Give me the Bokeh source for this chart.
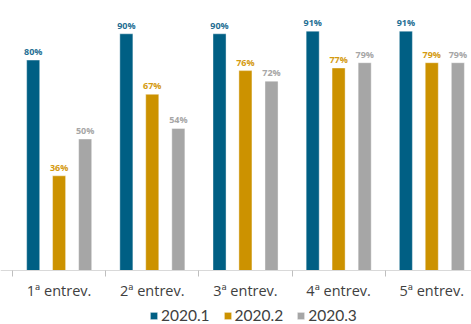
from bokeh.plotting import figure
from bokeh.models import ColumnDataSource, FixedTicker, Legend, Range1d, LinearAxis
from bokeh.core.properties import value
from bokeh.transform import dodge
from bokeh.embed import file_html
from bokeh.resources import INLINE

categories = ["1ª entrev.", "2ª entrev.", "3ª entrev.", "4ª entrev.", "5ª entrev."]
series = ["2020.1", "2020.2", "2020.3"]
s2020_1 = [80, 90, 90, 91, 91]
s2020_2 = [36, 67, 76, 77, 79]
s2020_3 = [50, 54, 72, 79, 79]
colors = ["#005F84", "#CC9200", "#A6A6A6"]
label_colors = ["#1F6F94", "#D49A10", "#A6A6A6"]

xpos = [1, 2, 3, 4, 5]
src = ColumnDataSource(dict(
    x=xpos, cat=categories,
    a=s2020_1, b=s2020_2, c=s2020_3,
    la=[f"{v}%" for v in s2020_1],
    lb=[f"{v}%" for v in s2020_2],
    lc=[f"{v}%" for v in s2020_3],
))

p = figure(width=471, height=324, output_backend="svg", toolbar_location=None,
           x_range=Range1d(0.3712, 5.4265), y_range=Range1d(-20.53, 102.66),
           x_axis_location=None, y_axis_location=None,
           min_border_left=0, min_border_right=0, min_border_top=0, min_border_bottom=0)
p.outline_line_color = None
p.grid.visible = False

offsets = [-0.278, 0.0, 0.28]
cols = ["a", "b", "c"]
lcols = ["la", "lb", "lc"]
renderers = []
for name, col, lcol, off, c, lc in zip(series, cols, lcols, offsets, colors, label_colors):
    r = p.vbar(x=dodge("x", off), top=col, bottom=0, width=0.14, source=src,
               fill_color=c, line_color="#FFFFFF", line_alpha=0.5, line_width=0.8)
    renderers.append((name, [r]))
    p.text(x=dodge("x", off), y=col, text=lcol, source=src,
           text_align="center", text_baseline="bottom", y_offset=-2,
           text_font=value("Open Sans"), text_font_size="9px", text_font_style="bold",
           text_color=lc)

ax = LinearAxis(fixed_location=0)
ax.ticker = FixedTicker(ticks=xpos, minor_ticks=[0.5, 1.5, 2.5, 3.5, 4.5, 5.5])
ax.major_label_overrides = {x: c for x, c in zip(xpos, categories)}
ax.major_tick_out = 0
ax.major_tick_in = 0
ax.minor_tick_out = 6
ax.minor_tick_in = 0
ax.minor_tick_line_color = "#BFBFBF"
ax.axis_line_color = "#D9D9D9"
ax.axis_line_width = 1
ax.major_label_standoff = 4
ax.major_label_text_font = "Open Sans"
ax.major_label_text_font_size = "14.5px"
ax.major_label_text_color = "#404040"
p.add_layout(ax, "below")

legend = Legend(items=renderers, orientation="horizontal", location=(149, 0),
                glyph_width=9, glyph_height=9, label_standoff=3, spacing=13,
                padding=0, margin=0, border_line_color=None, background_fill_alpha=0,
                label_text_font="Lato", label_text_font_size="15.5px",
                label_text_color="#404040", label_height=12)
p.add_layout(legend, "center")

open("out.html", "w").write(file_html(p, INLINE))
